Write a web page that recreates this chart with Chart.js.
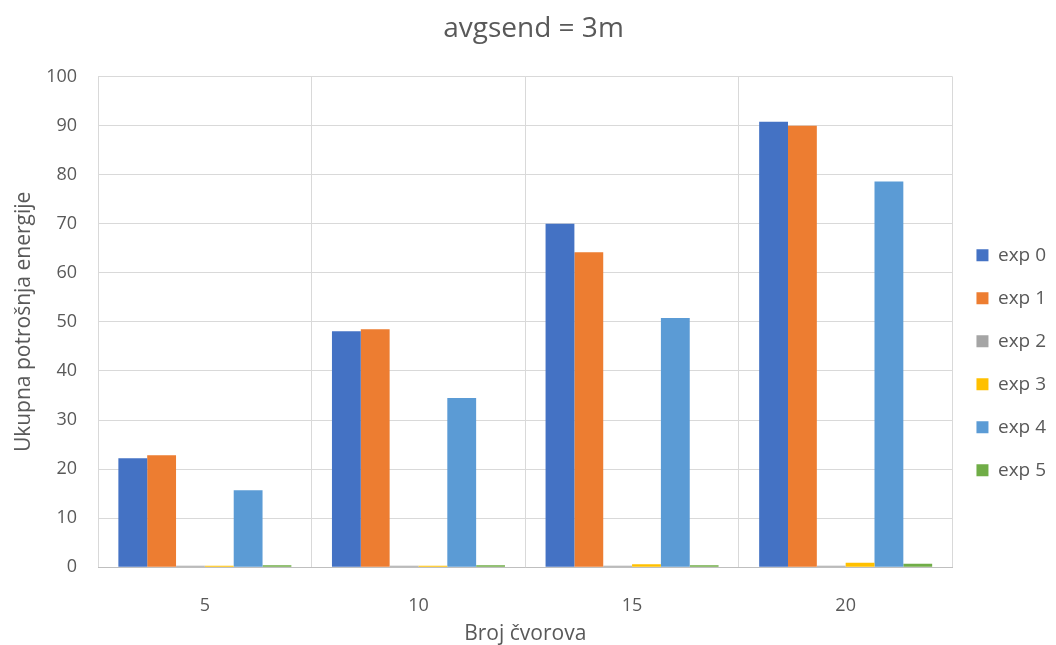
<!DOCTYPE html>
<html>
<head>
<meta charset="utf-8">
<script src="https://cdn.jsdelivr.net/npm/chart.js@4/dist/chart.umd.min.js"></script>
<style>
  html, body { margin: 0; padding: 0; background: #fff; }
  #wrap { width: 1056px; height: 645px; }
</style>
</head>
<body>
<div id="wrap"><canvas id="myChart"></canvas></div>
<script>
// podaci procitani sa grafika
const cvorovi = ['5', '10', '15', '20'];
const exp0 = [22.2, 48.1, 70.0, 90.8];
const exp1 = [22.8, 48.5, 64.2, 90.0];
const exp2 = [0.3, 0.3, 0.3, 0.3];
const exp3 = [0.3, 0.3, 0.6, 0.9];
const exp4 = [15.7, 34.5, 50.8, 78.6];
const exp5 = [0.4, 0.4, 0.4, 0.7];
const yTicks = [0, 10, 20, 30, 40, 50, 60, 70, 80, 90, 100];

const boje = ['#4472C4', '#ED7D31', '#A5A5A5', '#FFC000', '#5B9BD5', '#70AD47'];
const serije = [exp0, exp1, exp2, exp3, exp4, exp5];

var ctx = document.getElementById('myChart').getContext('2d');

var myChart = new Chart(ctx, {
    type: 'bar',
    data: {
        labels: cvorovi,
        datasets: serije.map((s, i) => ({
            label: 'exp ' + i,
            data: s,
            backgroundColor: boje[i],
            borderWidth: 0,
            categoryPercentage: 0.81,
            barPercentage: 1.0
        }))
    },
    options: {
        responsive: true,
        maintainAspectRatio: false,
        animation: false,
        layout: { padding: { top: 0, right: 0, bottom: 0, left: 11 } },
        plugins: {
            title: {
                display: true,
                text: 'avgsend = 3m',
                color: '#595959',
                font: { family: 'Open Sans', size: 28, weight: 'normal' },
                padding: { top: 12, bottom: 31 }
            },
            legend: {
                position: 'right',
                title: { display: true, text: '', padding: { top: 66, bottom: 0 } },
                labels: {
                    color: '#595959',
                    font: { family: 'Open Sans', size: 19 },
                    boxWidth: 12,
                    boxHeight: 12,
                    padding: 24
                }
            },
            tooltip: { enabled: false }
        },
        scales: {
            x: {
                grid: { color: '#D9D9D9', offset: true, drawTicks: false },
                border: { color: '#BFBFBF' },
                ticks: {
                    color: '#595959',
                    font: { family: 'Open Sans', size: 18 },
                    padding: 28
                },
                title: {
                    display: true,
                    text: 'Broj čvorova',
                    color: '#595959',
                    font: { family: 'Open Sans', size: 21 },
                    padding: { top: -23, bottom: -2 }
                }
            },
            y: {
                min: 0,
                max: 100,
                afterBuildTicks: (axis) => { axis.ticks = yTicks.map(v => ({ value: v })); },
                grid: { color: '#D9D9D9', drawTicks: false },
                border: { display: false },
                ticks: {
                    color: '#595959',
                    font: { family: 'Open Sans', size: 18 },
                    padding: 21
                },
                title: {
                    display: true,
                    text: 'Ukupna potrošnja energije',
                    color: '#595959',
                    font: { family: 'Open Sans', size: 21 },
                    padding: { top: 0, bottom: -11 }
                }
            }
        }
    }
});
</script>
</body>
</html>
